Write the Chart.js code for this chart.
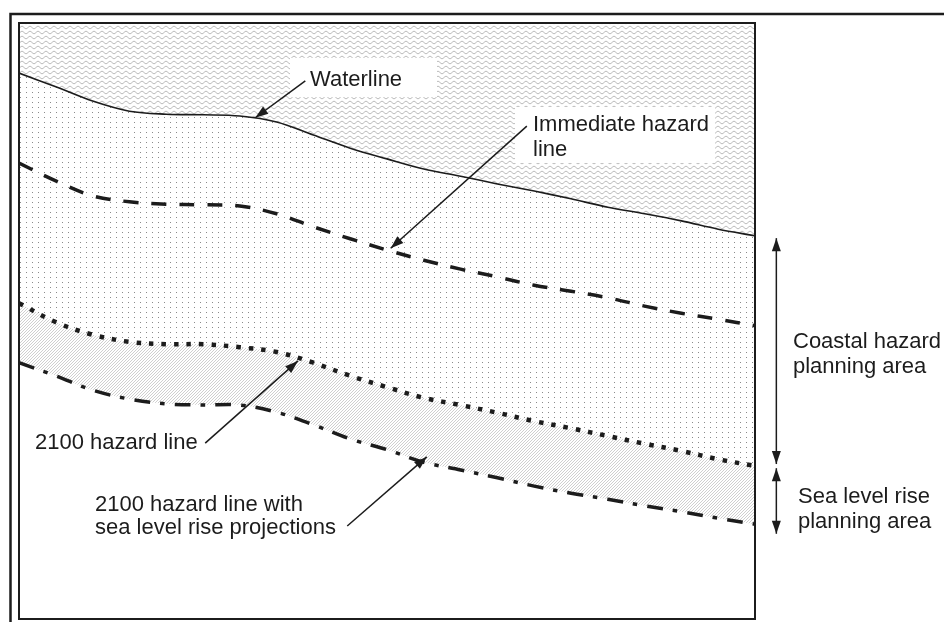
<!DOCTYPE html>
<html>
<head>
<meta charset="utf-8">
<title>Coastal hazard planning areas</title>
<script src="https://cdn.jsdelivr.net/npm/chart.js@4.4.1/dist/chart.umd.min.js"></script>
<style>
  body { margin: 0; background: #fff; }
  canvas { display: block; }
</style>
</head>
<body>
<canvas id="chart" width="944" height="622"></canvas>
<script>
// distance along the shore (0-100) and how far inland each line sits (0 = bottom, 100 = top)
const alongShore = [0, 5, 10, 15, 20, 25, 30, 35, 40, 45, 50, 55, 60, 65, 70, 75, 80, 85, 90, 95, 100];
const waterline = [91.6, 89.3, 86.9, 85.2, 84.7, 84.6, 84.4, 83.4, 81.2, 79.0, 77.2, 75.5, 74.3, 73.0, 71.8, 70.5, 69.1, 68.0, 66.8, 65.4, 64.3];
const immediateLine = [76.5, 73.5, 71.0, 70.0, 69.6, 69.5, 69.3, 68.0, 65.8, 63.8, 61.9, 60.2, 58.7, 57.4, 56.0, 55.0, 53.9, 52.5, 51.3, 50.3, 49.2];
const hazard2100 = [53.0, 49.8, 47.7, 46.5, 46.1, 46.1, 45.6, 44.8, 43.0, 40.8, 38.9, 37.1, 35.9, 34.6, 33.2, 32.0, 30.7, 29.4, 28.2, 26.8, 25.7];
const hazard2100Slr = [43.0, 40.8, 38.4, 36.9, 36.1, 35.9, 35.9, 34.7, 32.6, 30.2, 28.4, 26.3, 25.0, 23.7, 22.3, 21.1, 20.1, 19.0, 18.0, 16.9, 15.9];

const ink = '#1c1c1c';
const labelFont = '22px "Liberation Sans", Arial, sans-serif';

function points(ys) {
  return alongShore.map((x, i) => ({ x: x, y: ys[i] }));
}

const ctx = document.getElementById('chart').getContext('2d');

// small tiles for the hatched areas
function makePattern(w, h, draw) {
  const c = document.createElement('canvas');
  c.width = w;
  c.height = h;
  draw(c.getContext('2d'));
  return ctx.createPattern(c, 'repeat');
}

const sea = makePattern(8, 5, g => {
  g.strokeStyle = 'rgba(90,90,90,0.45)';
  g.lineWidth = 0.9;
  g.beginPath();
  for (let i = 0; i <= 8; i++) {
    const yy = 2.5 + 1.3 * Math.sin(i / 8 * 2 * Math.PI);
    if (i === 0) g.moveTo(i, yy); else g.lineTo(i, yy);
  }
  g.stroke();
});

const land = makePattern(6, 5, g => {
  g.fillStyle = '#8a8a8a';
  g.fillRect(2, 2, 1, 1);
});

const slrBand = makePattern(3, 3, g => {
  g.strokeStyle = 'rgba(110,110,110,0.42)';
  g.lineWidth = 0.8;
  g.beginPath();
  g.moveTo(0, 3); g.lineTo(3, 0);
  g.moveTo(-1, 1); g.lineTo(1, -1);
  g.moveTo(2, 4); g.lineTo(4, 2);
  g.stroke();
});

// frames round the drawing
const framePlugin = {
  id: 'frames',
  afterDraw(chart) {
    const c = chart.ctx;
    const a = chart.chartArea;
    c.save();
    c.strokeStyle = ink;
    c.lineWidth = 2;
    c.strokeRect(a.left, a.top, a.right - a.left, a.bottom - a.top);
    c.lineWidth = 2.5;
    c.strokeRect(10.5, 14, 960, 700);
    c.restore();
  }
};

function arrowHead(c, x0, y0, x1, y1) {
  const ang = Math.atan2(y1 - y0, x1 - x0);
  const len = 13, half = 4.5;
  c.beginPath();
  c.moveTo(x1, y1);
  c.lineTo(x1 - len * Math.cos(ang) + half * Math.sin(ang), y1 - len * Math.sin(ang) - half * Math.cos(ang));
  c.lineTo(x1 - len * Math.cos(ang) - half * Math.sin(ang), y1 - len * Math.sin(ang) + half * Math.cos(ang));
  c.closePath();
  c.fill();
}

// callouts: [fromX, fromY, toX, toY] in chart units
const callouts = [
  [38.9, 90.3, 32.1, 84.1],
  [69.0, 82.7, 50.5, 62.2],
  [25.3, 29.5, 37.9, 43.3],
  [44.6, 15.6, 55.4, 27.2]
];
// planning area extents on the right, in chart units
const areaX = 102.9;
const coastalArea = [63.9, 26.0];
const slrArea = [25.3, 14.3];

const notesPlugin = {
  id: 'notes',
  afterDraw(chart) {
    const c = chart.ctx;
    const sx = chart.scales.x, sy = chart.scales.y;
    c.save();

    // white boxes behind the upper labels
    c.fillStyle = '#fff';
    c.fillRect(290, 58, 147, 39);
    c.fillRect(515, 107, 200, 56);

    c.strokeStyle = ink;
    c.fillStyle = ink;
    c.lineWidth = 1.5;
    callouts.forEach(([x0, y0, x1, y1]) => {
      const a = sx.getPixelForValue(x0), b = sy.getPixelForValue(y0);
      const p = sx.getPixelForValue(x1), q = sy.getPixelForValue(y1);
      c.beginPath();
      c.moveTo(a, b);
      c.lineTo(p, q);
      c.stroke();
      arrowHead(c, a, b, p, q);
    });

    [coastalArea, slrArea].forEach(([top, bottom]) => {
      const x = sx.getPixelForValue(areaX);
      const t = sy.getPixelForValue(top), b = sy.getPixelForValue(bottom);
      c.beginPath();
      c.moveTo(x, t);
      c.lineTo(x, b);
      c.stroke();
      arrowHead(c, x, b, x, t);
      arrowHead(c, x, t, x, b);
    });

    c.font = labelFont;
    c.textBaseline = 'middle';
    c.textAlign = 'left';
    c.fillText('Waterline', 310, 80);
    c.fillText('Immediate hazard', 533, 125);
    c.fillText('line', 533, 150);
    c.fillText('2100 hazard line', 35, 443);
    c.fillText('2100 hazard line with', 95, 505);
    c.fillText('sea level rise projections', 95, 528);
    c.fillText('Coastal hazard', 793, 342);
    c.fillText('planning area', 793, 367);
    c.fillText('Sea level rise', 798, 497);
    c.fillText('planning area', 798, 522);
    c.restore();
  }
};

new Chart(ctx, {
  type: 'line',
  data: {
    datasets: [
      {
        label: 'Waterline',
        data: points(waterline),
        borderColor: ink,
        borderWidth: 1.6,
        backgroundColor: sea,
        fill: 'end'
      },
      {
        label: 'Immediate hazard line',
        data: points(immediateLine),
        borderColor: ink,
        borderWidth: 3.5,
        borderDash: [15, 13],
        fill: false
      },
      {
        label: '2100 hazard line',
        data: points(hazard2100),
        borderColor: ink,
        borderWidth: 4.5,
        borderDash: [4.5, 8],
        backgroundColor: land,
        fill: 0
      },
      {
        label: '2100 hazard line with sea level rise projections',
        data: points(hazard2100Slr),
        borderColor: ink,
        borderWidth: 3.5,
        borderDash: [16, 10, 4.5, 10],
        backgroundColor: slrBand,
        fill: 2
      }
    ]
  },
  options: {
    responsive: false,
    animation: false,
    layout: { padding: { left: 19, top: 23, right: 189, bottom: 3 } },
    scales: {
      x: { type: 'linear', min: 0, max: 100, display: false },
      y: { min: 0, max: 100, display: false }
    },
    elements: {
      point: { radius: 0 },
      line: { tension: 0.35 }
    },
    plugins: {
      legend: { display: false },
      tooltip: { enabled: false },
      filler: { drawTime: 'beforeDatasetsDraw' }
    }
  },
  plugins: [framePlugin, notesPlugin]
});
</script>
</body>
</html>
